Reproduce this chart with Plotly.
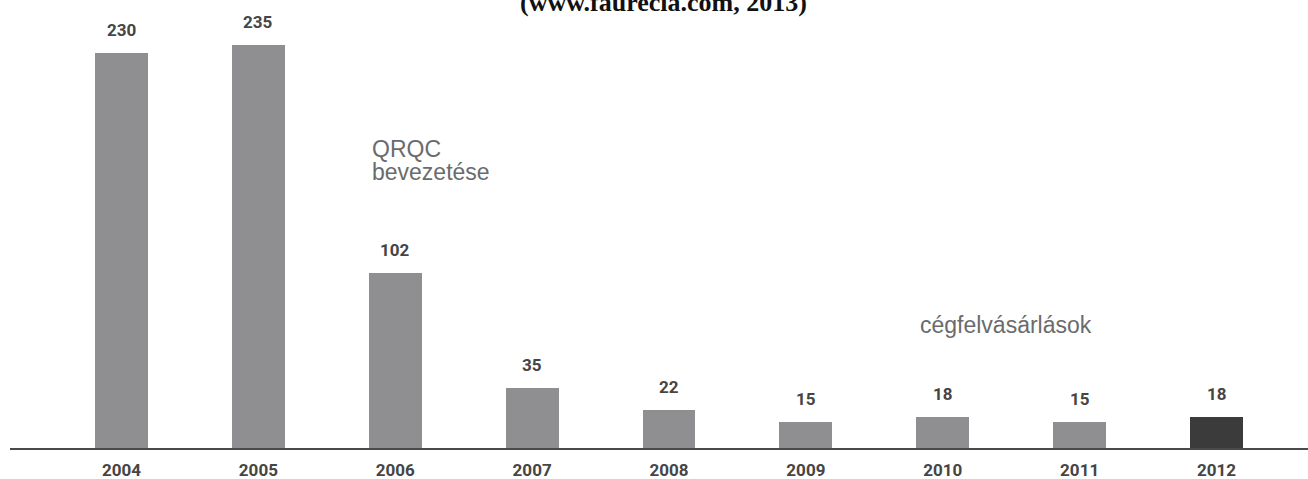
import plotly.graph_objects as go

# Yearly counts shown on the bars
years = ["2004", "2005", "2006", "2007", "2008", "2009", "2010", "2011", "2012"]
values = [230, 235, 102, 35, 22, 15, 18, 15, 18]
bar_colors = ["#8f8f91"] * 8 + ["#3b3b3b"]

W, H = 1308, 479
plot_top, plot_bottom = 0, 448  # pixel rows of the plot area
y_max = 261

label_font = dict(family="Roboto, DejaVu Sans Condensed, sans-serif",
                  size=17, color="#454545", weight="bold")
note_font = dict(family="Liberation Sans, Arial, Helvetica, sans-serif", size=23, color="#6b6b6b")


def py(pix):
    """Convert a pixel row into paper coordinates of the plot area."""
    return 1 - (pix - plot_top) / (plot_bottom - plot_top)


def px(pix):
    """Convert a pixel column into paper coordinates of the plot area."""
    return (pix - 10) / (W - 10)


fig = go.Figure(
    go.Bar(
        x=list(range(len(years))),
        y=values,
        width=0.387,
        marker=dict(color=bar_colors, line=dict(width=0)),
        hoverinfo="skip",
    )
)

annotations = []
for i, v in enumerate(values):
    annotations.append(dict(
        x=i, y=v, xref="x", yref="y", text=str(v), showarrow=False,
        yanchor="middle", yshift=23, font=label_font,
    ))

annotations += [
    dict(text="<b>(www.faurecia.com, 2013)</b>", xref="paper", yref="paper",
         x=px(663), y=1, xanchor="center", yanchor="bottom", yshift=-19, showarrow=False,
         font=dict(family="Liberation Serif, Times New Roman, serif", size=26, color="#111111")),
    dict(text="QRQC", xref="paper", yref="paper", x=px(371), y=py(149),
         xanchor="left", yanchor="middle", showarrow=False, font=note_font, borderpad=0),
    dict(text="bevezetése", xref="paper", yref="paper", x=px(371), y=py(172),
         xanchor="left", yanchor="middle", showarrow=False, font=note_font, borderpad=0),
    dict(text="cégfelvásárlások", xref="paper", yref="paper", x=px(918), y=py(325),
         xanchor="left", yanchor="middle", showarrow=False, font=note_font),
]

fig.update_layout(
    width=W, height=H,
    margin=dict(l=10, r=0, t=plot_top, b=H - plot_bottom),
    paper_bgcolor="white", plot_bgcolor="white",
    showlegend=False,
    bargap=0,
    annotations=annotations,
    xaxis=dict(
        range=[-0.8146, 8.6685], tickmode="array",
        tickvals=list(range(len(years))), ticktext=years,
        tickfont=label_font, showgrid=False, zeroline=False,
        showline=True, linecolor="#4a4a4a", linewidth=2, ticks="",
        ticklabelstandoff=6, fixedrange=True,
    ),
    yaxis=dict(range=[0, y_max], visible=False, showgrid=False, zeroline=False, fixedrange=True),
)

fig.write_html("out.html", config={"displayModeBar": False})
